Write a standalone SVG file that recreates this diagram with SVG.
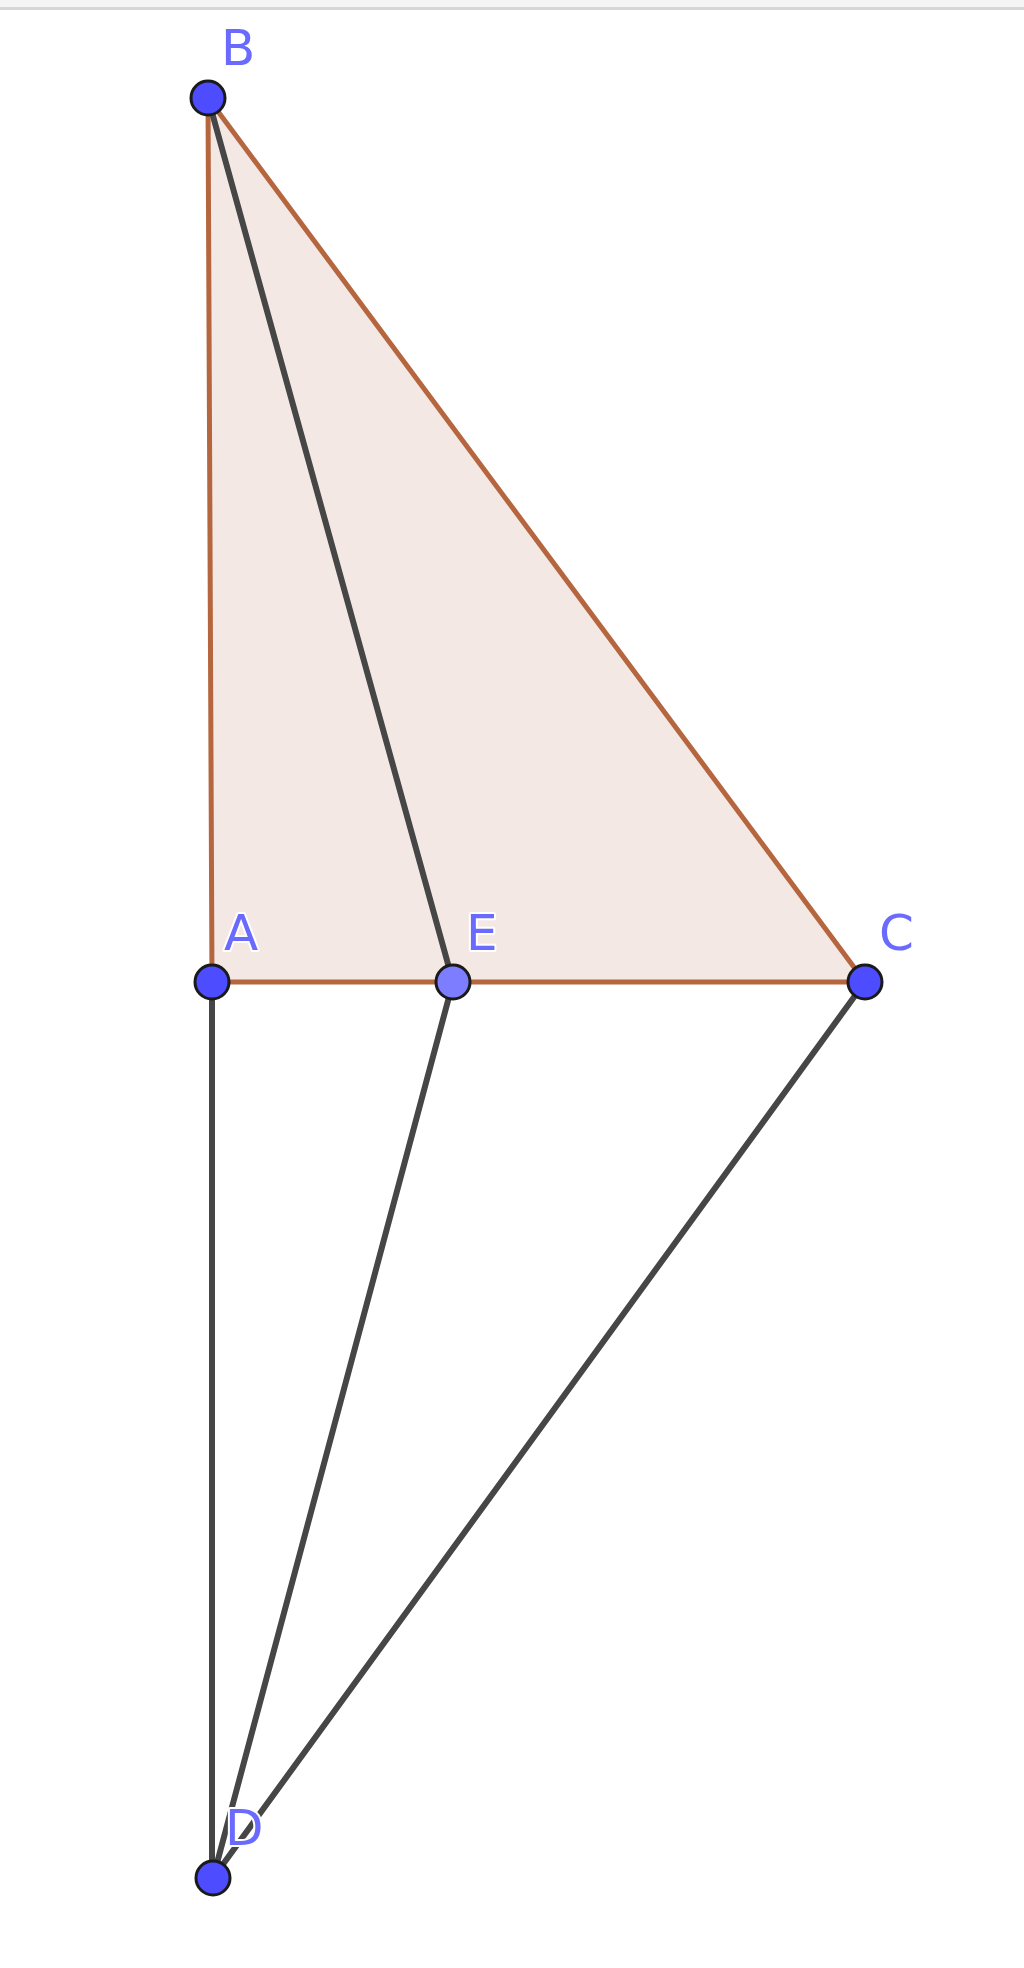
<svg xmlns="http://www.w3.org/2000/svg" width="1024" height="1968" viewBox="0 0 1024 1968">
<style>
.lbl{font-family:"DejaVu Sans","Liberation Sans",sans-serif;font-size:50px;fill:#6a6aff;stroke:#ffffff;stroke-width:4;paint-order:stroke;stroke-linejoin:round}
.seg{stroke:#464646;stroke-width:6;fill:none;stroke-linecap:round}
.pt{fill:#4d4dff;stroke:#1a1a1a;stroke-width:3}
</style>
<rect x="0" y="0" width="1024" height="1968" fill="#ffffff"/>
<rect x="0" y="0" width="1024" height="8" fill="#f4f4f4"/>
<line x1="0" y1="8.5" x2="1024" y2="8.5" stroke="#d6d6d6" stroke-width="3"/>
<g id="triangle">
<polygon points="208,98 212,982 865,982" fill="#f3e8e4" stroke="#b5663e" stroke-width="5" stroke-linejoin="round"/>
</g>
<g id="connectors">
<line class="seg" x1="208" y1="98" x2="453" y2="982"/>
<line class="seg" x1="212" y1="982" x2="212" y2="1878"/>
<line class="seg" x1="453" y1="982" x2="213" y2="1878"/>
<line class="seg" x1="865" y1="982" x2="213" y2="1878"/>
</g>
<g id="node-B"><circle class="pt" cx="208" cy="98" r="17"/><text class="lbl" x="221" y="65">B</text></g>
<g id="node-A"><circle class="pt" cx="212" cy="982" r="17"/><text class="lbl" x="224" y="950">A</text></g>
<g id="node-E"><circle class="pt" cx="453" cy="982" r="17" style="fill:#7d7dff"/><text class="lbl" x="466" y="950">E</text></g>
<g id="node-C"><circle class="pt" cx="865" cy="982" r="17"/><text class="lbl" x="879" y="950">C</text></g>
<g id="node-D"><text class="lbl" x="225" y="1845">D</text><circle class="pt" cx="213" cy="1878" r="17"/></g>
</svg>
